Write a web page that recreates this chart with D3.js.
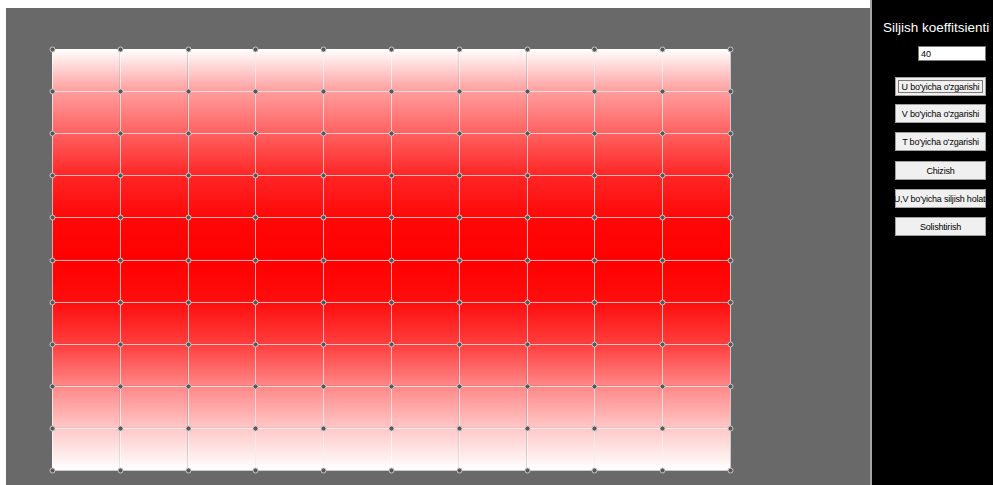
<!DOCTYPE html>
<html>
<head>
<meta charset="utf-8">
<script src="https://cdn.jsdelivr.net/npm/d3@7"></script>
<style>
  body { margin: 0; background: #fff; }
  svg { display: block; font-family: "Liberation Sans", Arial, sans-serif; }
</style>
</head>
<body>
<div id="chart"></div>
<script>
// surface grid parameters (u along x, v along y)
var uValues = [0, 1, 2, 3, 4, 5, 6, 7, 8, 9, 10];
var vValues = [0, 1, 2, 3, 4, 5, 6, 7, 8, 9, 10];
// red intensity of surface at each v row (0 = white, 1 = full red)
var rowIntensity = [0, 0.38, 0.62, 0.85, 0.97, 1.0, 0.95, 0.76, 0.47, 0.22, 0];
var coefficient = "40";
var buttonLabels = ["U bo'yicha o'zgarishi", "V bo'yicha o'zgarishi", "T bo'yicha o'zgarishi",
                    "Chizish", "U,V bo'yicha siljish holati", "Solishtirish"];
var buttonTops = [77, 104, 132, 161, 189, 217];

var W = 993, H = 485;
var svg = d3.select("#chart").append("svg")
    .attr("width", W)
    .attr("height", H);

// gray canvas
svg.append("rect").attr("x", 6).attr("y", 8).attr("width", 864).attr("height", H - 8).attr("fill", "#696969");
svg.append("rect").attr("x", 870).attr("y", 0).attr("width", 2).attr("height", H).attr("fill", "#a3a3a3");
// black side panel
svg.append("rect").attr("x", 872).attr("y", 0).attr("width", W - 872).attr("height", H).attr("fill", "#000");

var x = d3.scaleLinear().domain([0, 10]).range([52, 730]);
var y = d3.scaleLinear().domain([0, 10]).range([49, 470]);
var color = d3.interpolateRgb("#ffffff", "#ff0000");

// vertical gradient for the surface
var grad = svg.append("defs").append("linearGradient")
    .attr("id", "surf")
    .attr("gradientUnits", "userSpaceOnUse")
    .attr("x1", 0).attr("x2", 0)
    .attr("y1", y(0)).attr("y2", y(10));
grad.selectAll("stop")
    .data(vValues)
    .enter().append("stop")
    .attr("offset", function (d) { return (y(d) - y(0)) / (y(10) - y(0)); })
    .attr("stop-color", function (d, i) { return color(rowIntensity[i]); });

// cells
var cells = [];
uValues.slice(0, -1).forEach(function (u) {
    vValues.slice(0, -1).forEach(function (v) { cells.push({u: u, v: v}); });
});
svg.append("g").selectAll("rect")
    .data(cells)
    .enter().append("rect")
    .attr("x", function (d) { return x(d.u); })
    .attr("y", function (d) { return y(d.v); })
    .attr("width", function (d) { return x(d.u + 1) - x(d.u); })
    .attr("height", function (d) { return y(d.v + 1) - y(d.v); })
    .attr("fill", "url(#surf)");

// grid lines
var lines = svg.append("g")
    .attr("stroke", "#ffffff")
    .attr("stroke-opacity", 0.65)
    .attr("stroke-width", 1);
lines.selectAll(".ul")
    .data(uValues)
    .enter().append("line")
    .attr("x1", function (d) { return Math.round(x(d)) + 0.5; })
    .attr("x2", function (d) { return Math.round(x(d)) + 0.5; })
    .attr("y1", y(0)).attr("y2", y(10));
lines.selectAll(".vl")
    .data(vValues)
    .enter().append("line")
    .attr("y1", function (d) { return Math.round(y(d)) + 0.5; })
    .attr("y2", function (d) { return Math.round(y(d)) + 0.5; })
    .attr("x1", x(0)).attr("x2", x(10));

// control points
svg.append("g").selectAll("circle")
    .data(cells.concat(
        uValues.map(function (u) { return {u: u, v: 10}; }),
        vValues.slice(0, -1).map(function (v) { return {u: 10, v: v}; })))
    .enter().append("circle")
    .attr("cx", function (d) { return Math.round(x(d.u)) + 0.5; })
    .attr("cy", function (d) { return Math.round(y(d.v)) + 0.5; })
    .attr("r", 2.5)
    .attr("fill", "#585858")
    .attr("stroke", "#c8c8c8")
    .attr("stroke-width", 1);

// side panel controls
svg.append("text")
    .attr("x", 883).attr("y", 32)
    .attr("fill", "#fff")
    .style("font-size", "13.5px")
    .text("Siljish koeffitsienti");

svg.append("rect")
    .attr("x", 918.5).attr("y", 46.5).attr("width", 67).attr("height", 14)
    .attr("fill", "#fff").attr("stroke", "#7a7a7a");
svg.append("text")
    .attr("x", 921).attr("y", 57)
    .attr("fill", "#000")
    .style("font-size", "9px")
    .text(coefficient);

var btn = svg.append("g").selectAll("g")
    .data(buttonLabels)
    .enter().append("g")
    .attr("transform", function (d, i) { return "translate(895," + buttonTops[i] + ")"; });
btn.append("rect")
    .attr("x", 0.5).attr("y", 0.5).attr("width", 90).attr("height", 18)
    .attr("fill", "#f0f0f0").attr("stroke", "#a0a0a0");
btn.filter(function (d, i) { return i === 0; }).append("rect")
    .attr("x", 3.5).attr("y", 3.5).attr("width", 84).attr("height", 12)
    .attr("fill", "none").attr("stroke", "#000").attr("stroke-dasharray", "1,1");
btn.append("text")
    .attr("x", 45.5).attr("y", 13)
    .attr("text-anchor", "middle")
    .attr("fill", "#000")
    .style("font-size", "9px")
    .style("letter-spacing", "-0.2px")
    .text(function (d) { return d; });
</script>
</body>
</html>
